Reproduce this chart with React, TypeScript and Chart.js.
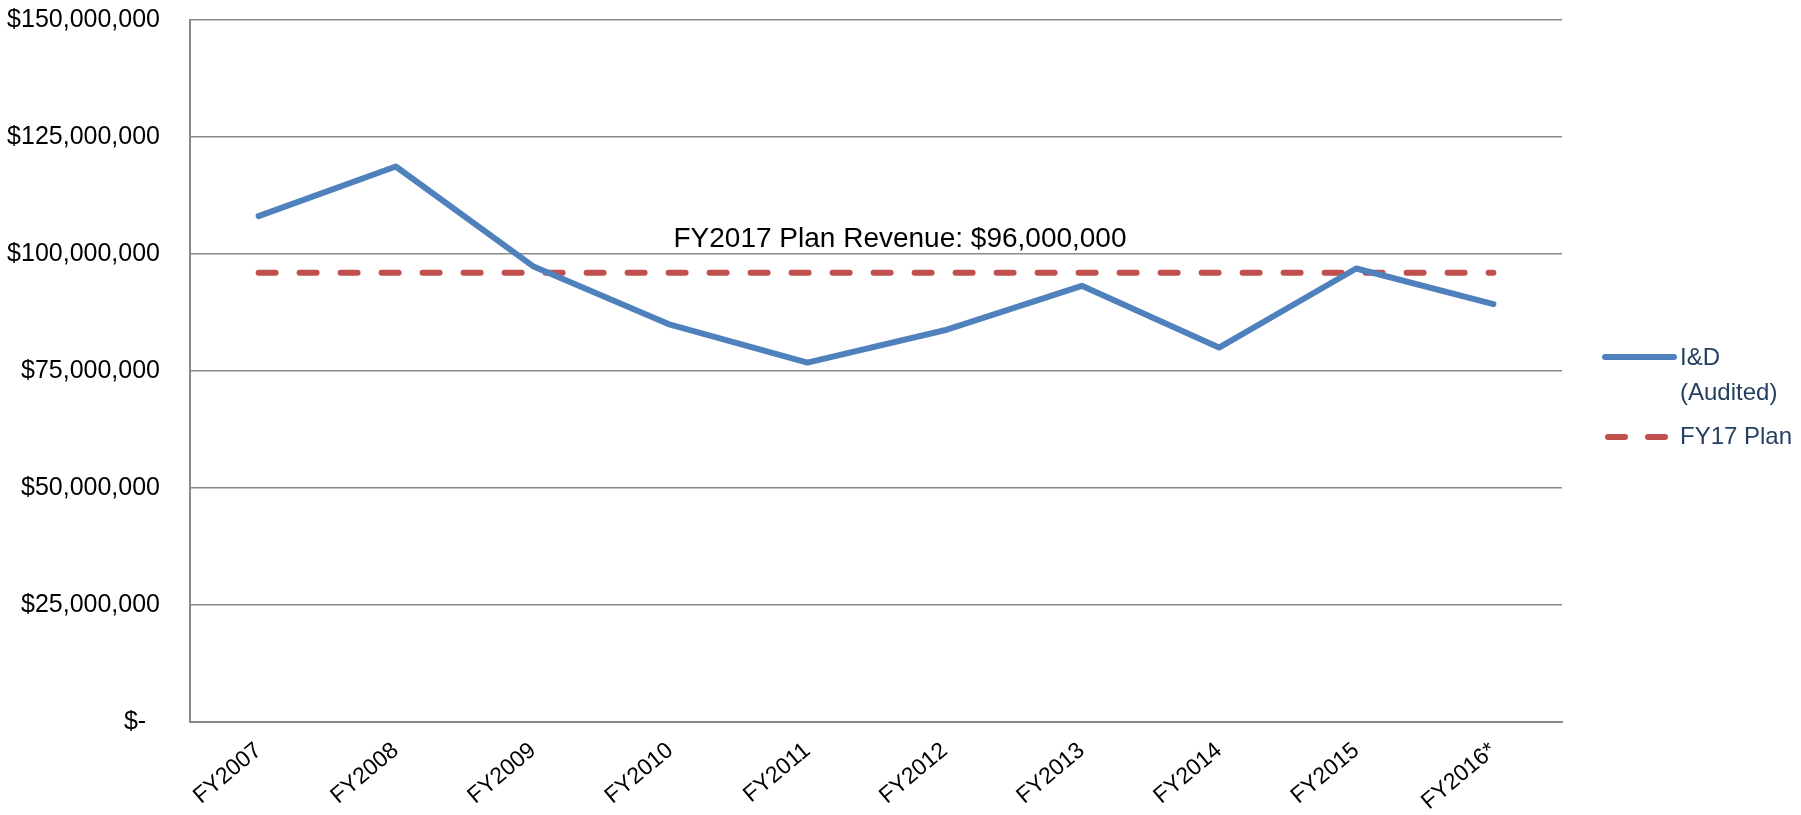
import React, { useEffect, useRef } from "react";
import { Chart, registerables } from "chart.js";

Chart.register(...registerables);

const categories = ["FY2007", "FY2008", "FY2009", "FY2010", "FY2011", "FY2012", "FY2013", "FY2014", "FY2015", "FY2016*"];
const auditedValues = [108100000, 118700000, 97400000, 84900000, 76800000, 83700000, 93200000, 80000000, 96900000, 89300000];
const planValues = [96000000, 96000000, 96000000, 96000000, 96000000, 96000000, 96000000, 96000000, 96000000, 96000000];
const yTickValues = [0, 25000000, 50000000, 75000000, 100000000, 125000000, 150000000];
const seriesNames = ["I&D (Audited)", "FY17 Plan"];
const legendLines = [["I&D", "(Audited)"], ["FY17 Plan"]];
const annotationText = "FY2017 Plan Revenue: $96,000,000";
const annotationValue = 96000000;

const FONT = "'Liberation Sans', Arial, sans-serif";
const BLUE = "#4F81BD";
const RED = "#C0504D";
const GRID = "#898989";
const LEGEND_TEXT = "#243F60";

const formatDollar = (v: number) => {
  if (v === 0) return "$-  ";
  return "$" + Math.round(v).toLocaleString("en-US");
};

const overlayPlugin = {
  id: "overlay",
  afterDatasetsDraw(chart: any) {
    const { ctx, chartArea, scales } = chart;
    ctx.save();
    // annotation
    ctx.font = `28px ${FONT}`;
    ctx.fillStyle = "#000";
    ctx.textAlign = "center";
    ctx.textBaseline = "alphabetic";
    const ay = scales.y.getPixelForValue(annotationValue) - 26;
    const ax = chartArea.left + (chartArea.right - chartArea.left) * 0.5175;
    ctx.fillText(annotationText, ax, ay);

    // legend
    const lx0 = chartArea.right + 43;
    const lx1 = chartArea.right + 112;
    const tx = chartArea.right + 118;
    const y1 = chartArea.top + 337;
    const y2 = chartArea.top + 417;
    ctx.lineCap = "round";
    ctx.lineWidth = 6;
    ctx.strokeStyle = BLUE;
    ctx.setLineDash([]);
    ctx.beginPath();
    ctx.moveTo(lx0, y1);
    ctx.lineTo(lx1, y1);
    ctx.stroke();
    ctx.strokeStyle = RED;
    ctx.setLineDash([17, 23]);
    ctx.beginPath();
    ctx.moveTo(lx0 + 3, y2);
    ctx.lineTo(lx1 - 6, y2);
    ctx.stroke();
    ctx.setLineDash([]);

    ctx.font = `24px ${FONT}`;
    ctx.fillStyle = LEGEND_TEXT;
    ctx.textAlign = "left";
    ctx.textBaseline = "middle";
    legendLines[0].forEach((t, i) => ctx.fillText(t, tx, y1 + 1 + i * 35));
    legendLines[1].forEach((t, i) => ctx.fillText(t, tx, y2 + i * 35));
    ctx.restore();
  },
};

export default function App() {
  const ref = useRef<HTMLCanvasElement | null>(null);

  useEffect(() => {
    document.body.style.margin = "0";
    const canvas = ref.current;
    if (!canvas) return;
    const chart = new Chart(canvas, {
      type: "line",
      data: {
        labels: categories,
        datasets: [
          {
            label: seriesNames[0],
            data: auditedValues,
            borderColor: BLUE,
            backgroundColor: BLUE,
            borderWidth: 6,
            pointRadius: 0,
            tension: 0,
            borderJoinStyle: "round",
            borderCapStyle: "round",
            fill: false,
          },
          {
            label: seriesNames[1],
            data: planValues,
            borderColor: RED,
            backgroundColor: RED,
            borderWidth: 6,
            borderDash: [17, 24],
            borderCapStyle: "round",
            pointRadius: 0,
            tension: 0,
            fill: false,
          },
        ],
      },
      options: {
        responsive: false,
        animation: false,
        layout: { padding: { top: 20, right: 239, left: 0, bottom: 0 } },
        plugins: {
          legend: { display: false },
          tooltip: { enabled: false },
          title: { display: false },
        },
        scales: {
          x: {
            offset: true,
            grid: { display: false, drawTicks: false },
            border: { display: true, color: GRID, width: 2 },
            ticks: {
              font: { family: FONT, size: 23 },
              color: "#000",
              minRotation: 40,
              maxRotation: 40,
              autoSkip: false,
              padding: 15,
            },
            afterFit: (s: any) => {
              s.height = 93;
              s.paddingLeft = 0;
              s.paddingRight = 0;
            },
          },
          y: {
            min: 0,
            max: 150000000,
            afterBuildTicks: (s: any) => {
              s.ticks = yTickValues.map((v) => ({ value: v }));
            },
            ticks: {
              font: { family: FONT, size: 25 },
              color: "#000",
              padding: 30,
              callback: (v: any) => formatDollar(Number(v)),
            },
            grid: { color: GRID, lineWidth: 1.5, drawTicks: false },
            border: { display: true, color: GRID, width: 2 },
            afterFit: (s: any) => {
              s.width = 190;
              s.paddingTop = 0;
              s.paddingBottom = 0;
            },
          },
        },
      },
      plugins: [overlayPlugin],
    });
    return () => chart.destroy();
  }, []);

  return (
    <div style={{ width: 1801, height: 815, background: "#fff" }}>
      <canvas ref={ref} width={1801} height={815} style={{ display: "block", width: 1801, height: 815 }} />
    </div>
  );
}
